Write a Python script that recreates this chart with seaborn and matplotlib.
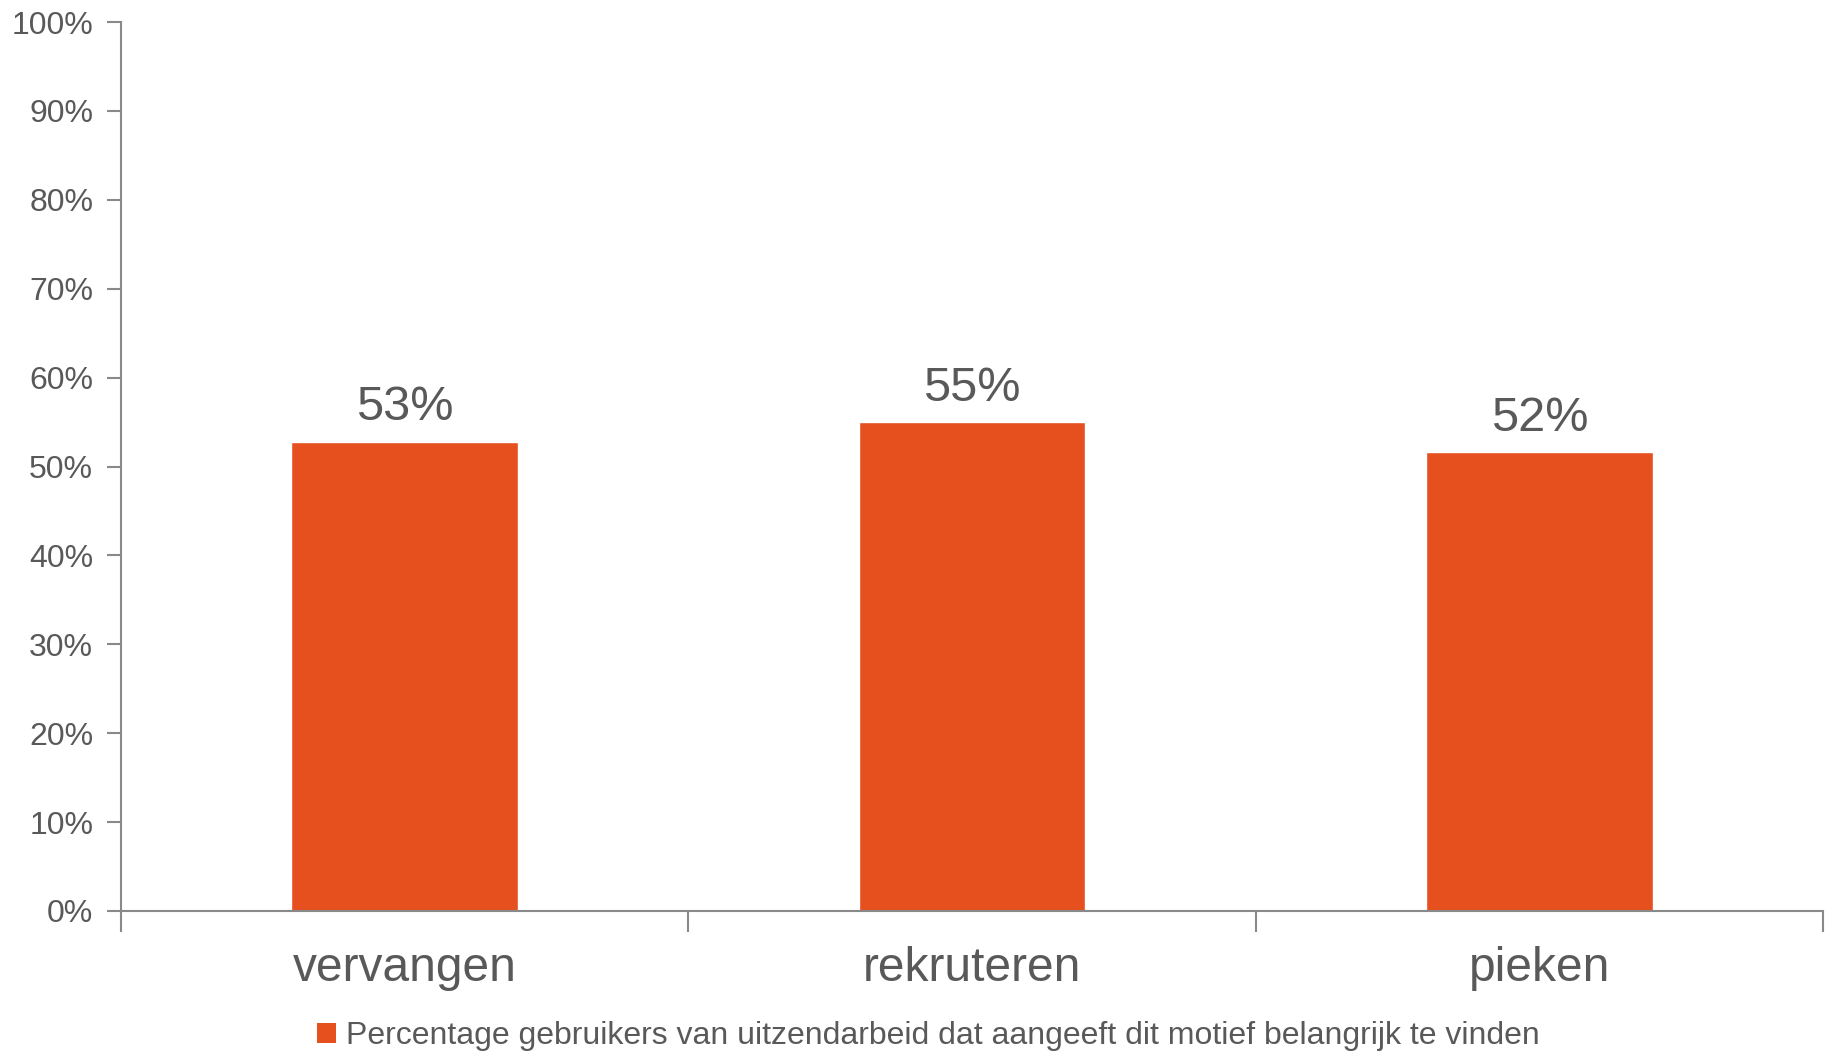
import matplotlib
matplotlib.use("Agg")
import matplotlib.pyplot as plt
import seaborn as sns
import pandas as pd
from matplotlib.patches import Patch
from matplotlib.ticker import PercentFormatter, FixedLocator

categories = ["vervangen", "rekruteren", "pieken"]
values = [0.528, 0.550, 0.516]
series_name = "Percentage gebruikers van uitzendarbeid dat aangeeft dit motief belangrijk te vinden"

bar_color = "#E6501F"
text_color = "#595959"
axis_color = "#898989"

sns.set_style("white")
plt.rcParams["font.family"] = ["Liberation Sans", "DejaVu Sans"]

df = pd.DataFrame({"categorie": categories, "waarde": values})

fig = plt.figure(figsize=(18.27, 10.55), dpi=100)
ax = fig.add_axes([121 / 1827, 144 / 1055, 1702 / 1827, 889 / 1055])

sns.barplot(data=df, x="categorie", y="waarde", color=bar_color, width=0.4,
            saturation=1, ax=ax)

ax.set_ylim(0, 1)
ax.set_xlim(-0.5, 2.5)
ax.yaxis.set_major_locator(FixedLocator([i / 10 for i in range(11)]))
ax.yaxis.set_major_formatter(PercentFormatter(1.0, decimals=0))
ax.set_xlabel("")
ax.set_ylabel("")

for s in ["top", "right"]:
    ax.spines[s].set_visible(False)
for s in ["left", "bottom"]:
    ax.spines[s].set_color(axis_color)
    ax.spines[s].set_linewidth(1.5)

ax.tick_params(axis="y", direction="out", length=10, width=1.5, color=axis_color,
               labelsize=23, labelcolor=text_color, pad=10, left=True)
ax.tick_params(axis="x", which="major", length=0, labelsize=34.5,
               labelcolor=text_color, pad=25)
ax.set_xticks([-0.5, 0.5, 1.5, 2.5], minor=True)
ax.tick_params(axis="x", which="minor", direction="out", length=15, width=1.5,
               color=axis_color, bottom=True)

labels = [f"{v:.0%}" for v in values]
ax.bar_label(ax.containers[0], labels=labels, padding=8, fontsize=35,
             color=text_color)

handle = Patch(facecolor=bar_color, edgecolor="none")
fig.legend([handle], [series_name], loc="center",
           bbox_to_anchor=(0.508, 1 - 1036 / 1055), frameon=False,
           fontsize=23, labelcolor=text_color, handlelength=0.6,
           handleheight=0.6, handletextpad=0.3)

fig.savefig("out.png", dpi=100)
